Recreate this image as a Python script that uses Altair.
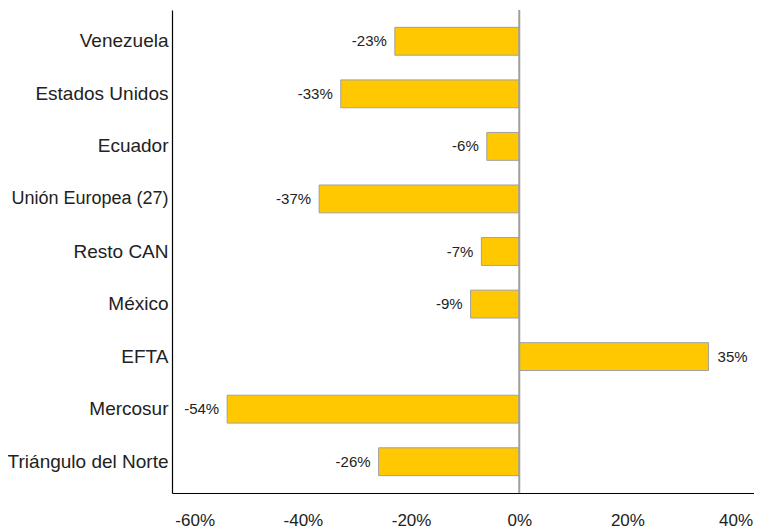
import altair as alt
import pandas as pd

categories = ["Venezuela", "Estados Unidos", "Ecuador", "Unión Europea (27)", "Resto CAN",
              "México", "EFTA", "Mercosur", "Triángulo del Norte"]
values = [-23, -33, -6, -37, -7, -9, 35, -54, -26]
tick_values = [-60, -40, -20, 0, 20, 40]

df = pd.DataFrame({"cat": categories, "val": values})
df["lbl"] = df["val"].astype(str) + "%"

FONT = "Liberation Sans, Arial"

x_scale = alt.Scale(domain=[-64.2, 43.4], nice=False, zero=False)
y_scale = alt.Scale(domain=categories, paddingInner=0.47, paddingOuter=0.33)

x_enc = alt.X("val:Q", scale=x_scale,
              axis=alt.Axis(values=tick_values, labelExpr="datum.value + '%'", title=None,
                            grid=False, ticks=False, domainColor="#000000", domainWidth=1.2,
                            labelFont=FONT, labelFontSize=17, labelColor="#222222",
                            labelPadding=19, labelFlush=False))
y_enc = alt.Y("cat:N", scale=y_scale, sort=categories,
              axis=alt.Axis(title=None, ticks=False, domainColor="#000000", domainWidth=1.2,
                            labelFont=FONT,
                            labelFontSize={"condition": {"test": "datum.value == 'Unión Europea (27)'",
                                                         "value": 18}, "value": 19},
                            labelColor="#222222", labelPadding=4, labelLimit=300))

bars = alt.Chart(df).mark_bar(color="#FFC800", stroke="#A0A0A0", strokeWidth=1).encode(
    x=x_enc, x2=alt.datum(0), y=y_enc)

zero = alt.Chart(pd.DataFrame({"z": [0]})).mark_rule(color="#A0A0A0", strokeWidth=2).encode(
    x=alt.X("z:Q", scale=x_scale))

neg = alt.Chart(df).transform_filter("datum.val < 0").mark_text(
    align="right", dx=-8, font=FONT, fontSize=15, color="#222222").encode(
    x=alt.X("val:Q", scale=x_scale), y=alt.Y("cat:N", scale=y_scale, sort=categories), text="lbl:N")

pos = alt.Chart(df).transform_filter("datum.val >= 0").mark_text(
    align="left", dx=9, font=FONT, fontSize=15, color="#222222").encode(
    x=alt.X("val:Q", scale=x_scale), y=alt.Y("cat:N", scale=y_scale, sort=categories), text="lbl:N")

chart = alt.layer(bars, zero, neg, pos).properties(
    width=582, height=483,
    autosize=alt.AutoSizeParams(type="none"),
    padding={"left": 164, "top": 2, "right": 0, "bottom": 38},
).configure(background="white").configure_view(stroke=None)

chart.save("out.html", embed_options={"renderer": "svg", "actions": False})
